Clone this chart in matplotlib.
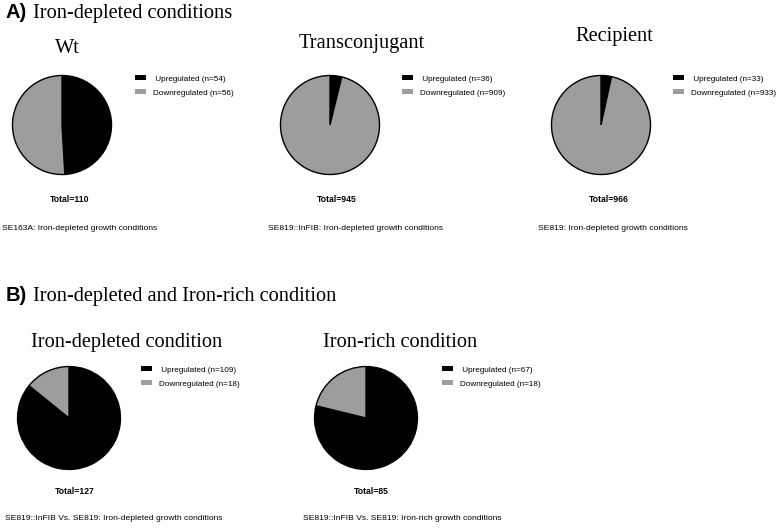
import matplotlib
matplotlib.use("Agg")
import matplotlib.pyplot as plt
from matplotlib.patches import Patch

W, H = 778, 528
SERIF = "Liberation Serif"
SANS = "Liberation Sans"
BLACK = "#000000"
GREY = "#9d9d9d"

# panel A: iron-depleted conditions
a_titles = ["Wt", "Transconjugant", "Recipient"]
a_up = [54, 36, 33]
a_down = [56, 909, 933]
a_captions = ["SE163A: Iron-depleted growth conditions",
              "SE819::InFIB: Iron-depleted growth conditions",
              "SE819: Iron-depleted growth conditions"]

# panel B: iron-depleted vs iron-rich
b_titles = ["Iron-depleted condition", "Iron-rich condition"]
b_up = [109, 67]
b_down = [18, 18]
b_captions = ["SE819::InFIB Vs. SE819: Iron-depleted growth conditions",
              "SE819::InFIB Vs. SE819: Iron-rich growth conditions"]

fig = plt.figure(figsize=(W / 100, H / 100), dpi=100)
fig.patch.set_facecolor("white")


def fx(x):
    return x / W


def fy(y):
    return 1 - y / H


def draw_pie(up, down, cx, cy, r, title, tx, ty, lx, ly, total_x, total_y, cap, cap_x, cap_y):
    ax = fig.add_axes([fx(cx - r), fy(cy + r), 2 * r / W, 2 * r / H])
    ax.pie([up, down], colors=[BLACK, GREY], startangle=90, counterclock=False,
           radius=1, wedgeprops=dict(edgecolor="black", linewidth=1.0))
    ax.set_xlim(-1.03, 1.03)
    ax.set_ylim(-1.03, 1.03)
    ax.set_aspect("equal")
    ax.axis("off")
    fig.text(fx(tx), fy(ty), title, family=SERIF, fontsize=14.7,
             ha="center", va="baseline")
    handles = [Patch(facecolor=BLACK, edgecolor="none"),
               Patch(facecolor=GREY, edgecolor="none")]
    labels = [" Upregulated (n=%d)" % up, "Downregulated (n=%d)" % down]
    fig.legend(handles, labels, loc="center left",
               bbox_to_anchor=(fx(lx), fy(ly)), bbox_transform=fig.transFigure,
               frameon=False, prop=dict(family=SANS, size=5.9),
               handlelength=1.35, handleheight=0.6, handletextpad=0.8,
               labelspacing=0.8, borderpad=0, borderaxespad=0)
    fig.text(fx(total_x), fy(total_y), "Total=%d" % (up + down), family=SANS,
             fontsize=6.2, fontweight="bold", ha="center", va="center")
    fig.text(fx(cap_x), fy(cap_y), cap, family=SANS, fontsize=6.1,
             ha="left", va="center")


# headings
fig.text(fx(6), fy(18), "A)", family=SANS, fontweight="bold", fontsize=14.5,
         ha="left", va="baseline")
fig.text(fx(33), fy(18), "Iron-depleted conditions", family=SERIF, fontsize=14.7,
         ha="left", va="baseline")
fig.text(fx(6), fy(301), "B)", family=SANS, fontweight="bold", fontsize=14.5,
         ha="left", va="baseline")
fig.text(fx(33), fy(301), "Iron-depleted and Iron-rich condition", family=SERIF,
         fontsize=14.7, ha="left", va="baseline")

# panel A layout
a_pie_x = [62, 330, 601]
a_title = [(67, 53), (362, 48), (614, 41)]
a_leg_x = [135, 402, 673]
a_total_x = [70, 337, 609]
a_cap_x = [2, 268, 538]
for i in range(3):
    draw_pie(a_up[i], a_down[i], a_pie_x[i], 125, 51, a_titles[i],
             a_title[i][0], a_title[i][1], a_leg_x[i], 86,
             a_total_x[i], 200, a_captions[i], a_cap_x[i], 228)

# panel B layout
b_pie_x = [69, 366]
b_title_x = [127, 400]
b_leg_x = [141, 442]
b_total_x = [75, 371]
b_cap_x = [5, 303]
for i in range(2):
    draw_pie(b_up[i], b_down[i], b_pie_x[i], 418, 53, b_titles[i],
             b_title_x[i], 347, b_leg_x[i], 377,
             b_total_x[i], 492, b_captions[i], b_cap_x[i], 519)

fig.savefig("out.png", dpi=100)
